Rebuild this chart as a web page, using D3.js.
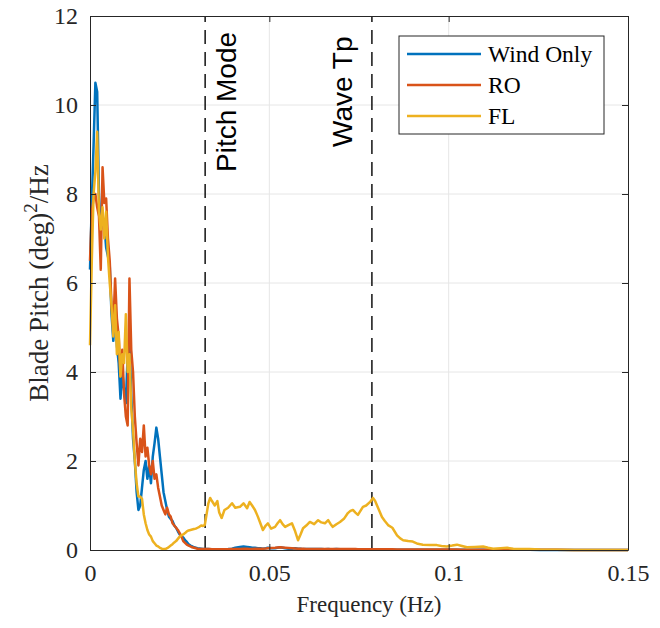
<!DOCTYPE html>
<html>
<head>
<meta charset="utf-8">
<style>
body { margin: 0; background: #fff; }
text { fill: #262626; }
</style>
</head>
<body>
<svg class="chart"></svg>
<script src="https://d3js.org/d3.v7.min.js"></script>
<script>
// frequency grid (Hz)
freqLow = [0, 0.0005, 0.001, 0.0015, 0.002, 0.0025, 0.003, 0.0035, 0.004, 0.0045,
  0.005, 0.0055, 0.006, 0.0065, 0.007, 0.0075, 0.008, 0.0085, 0.009, 0.0095,
  0.01, 0.0105, 0.011, 0.0115, 0.012, 0.0125, 0.013, 0.0135, 0.014, 0.0145,
  0.015, 0.0155, 0.016, 0.0165, 0.017, 0.0175, 0.018, 0.0185, 0.019, 0.0195,
  0.02, 0.0205, 0.021, 0.0215, 0.022, 0.0225, 0.023, 0.0235, 0.024, 0.0245,
  0.025, 0.0255, 0.026, 0.0265, 0.027, 0.0275, 0.028, 0.0285, 0.029, 0.0295,
  0.03, 0.0305, 0.031, 0.0315, 0.032]

freqHigh = [0.0325, 0.033, 0.0335, 0.034, 0.0348, 0.0355, 0.036, 0.0367, 0.0375, 0.0385,
  0.0396, 0.0405, 0.0418, 0.0428, 0.0438, 0.0445, 0.0452, 0.046, 0.0468, 0.0475,
  0.0482, 0.049, 0.0496, 0.0505, 0.0516, 0.0523, 0.053, 0.0537, 0.0544, 0.0553,
  0.0563, 0.0572, 0.058, 0.0587, 0.0594, 0.0603, 0.0613, 0.0625, 0.0636, 0.0645,
  0.0655, 0.0664, 0.0671, 0.0677, 0.0687, 0.0697, 0.0708, 0.0719, 0.0726, 0.0733,
  0.074, 0.0747, 0.0754, 0.0761, 0.077, 0.0781, 0.0789, 0.0795, 0.0803, 0.0814,
  0.0822, 0.0831, 0.0843, 0.0856, 0.0865, 0.0873, 0.0887, 0.09, 0.0914, 0.0928,
  0.0948, 0.0967, 0.098, 0.0995, 0.101, 0.1023, 0.1037, 0.1051, 0.1073, 0.1096,
  0.111, 0.1124, 0.1145, 0.1163, 0.118, 0.1199, 0.1225, 0.1255, 0.13, 0.135,
  0.14, 0.145, 0.15]

// blade pitch PSD, (deg)^2/Hz
windLow = [6.3, 7.8, 9.1, 10.5, 10.3, 8.0, 7.2, 7.5, 7.3, 6.8,
  6.6, 6.4, 5.3, 4.7, 5.5, 4.6, 4.2, 3.4, 4.0, 3.6,
  3.3, 4.4, 4.8, 3.5, 2.5, 2.0, 1.3, 0.9, 1.0, 1.4,
  1.8, 2.0, 1.6, 1.9, 1.5, 2.1, 2.4, 2.75, 2.5, 2.1,
  1.7, 1.3, 1.1, 0.9, 0.75, 0.7, 0.65, 0.55, 0.5, 0.42,
  0.35, 0.31, 0.28, 0.22, 0.18, 0.13, 0.1, 0.08, 0.06, 0.05,
  0.04, 0.035, 0.03, 0.025, 0.02]
windHigh = [0.02, 0.02, 0.015, 0.015, 0.015, 0.01, 0.01, 0.01, 0.015, 0.02,
  0.03, 0.05, 0.07, 0.08, 0.07, 0.06, 0.05, 0.05, 0.04, 0.04,
  0.03, 0.04, 0.05, 0.04, 0.04, 0.05, 0.06, 0.05, 0.04, 0.03,
  0.03, 0.04, 0.03, 0.03, 0.02, 0.02, 0.02, 0.025, 0.02, 0.02,
  0.015, 0.02, 0.015, 0.015, 0.02, 0.015, 0.015, 0.01, 0.015, 0.015,
  0.01, 0.01, 0.015, 0.01, 0.01, 0.01, 0.01, 0.01, 0.01, 0.01,
  0.01, 0.008, 0.008, 0.008, 0.008, 0.006, 0.006, 0.006, 0.006, 0.005,
  0.005, 0.005, 0.005, 0.005, 0.004, 0.004, 0.004, 0.004, 0.004, 0.004,
  0.003, 0.003, 0.003, 0.003, 0.003, 0.003, 0.003, 0.002, 0.002, 0.002,
  0.002, 0.002, 0.002]

roLow = [6.5, 7.6, 7.9, 8.0, 7.7, 7.5, 6.3, 8.6, 7.8, 7.9,
  7.0, 6.5, 5.5, 5.0, 6.1, 5.2, 4.8, 3.9, 4.5, 3.5,
  3.0, 2.8, 6.1, 4.5, 4.0, 3.0, 2.4, 1.9, 2.5, 2.2,
  2.8, 2.1, 2.3, 1.9, 1.7, 2.0, 1.6, 1.7, 1.4, 1.2,
  1.0, 0.9, 0.8, 0.95, 0.8, 0.75, 0.6, 0.55, 0.5, 0.45,
  0.38, 0.3, 0.2, 0.16, 0.12, 0.1, 0.08, 0.06, 0.05, 0.04,
  0.03, 0.025, 0.02, 0.02, 0.02]
roHigh = [0.02, 0.02, 0.02, 0.018, 0.018, 0.015, 0.015, 0.015, 0.015, 0.018,
  0.02, 0.02, 0.025, 0.03, 0.03, 0.025, 0.025, 0.03, 0.03, 0.03,
  0.03, 0.035, 0.04, 0.045, 0.05, 0.055, 0.06, 0.055, 0.05, 0.045,
  0.04, 0.035, 0.03, 0.03, 0.03, 0.025, 0.025, 0.025, 0.02, 0.02,
  0.02, 0.02, 0.02, 0.02, 0.02, 0.02, 0.02, 0.02, 0.02, 0.02,
  0.02, 0.018, 0.018, 0.018, 0.018, 0.018, 0.018, 0.015, 0.015, 0.015,
  0.015, 0.015, 0.015, 0.012, 0.012, 0.012, 0.012, 0.012, 0.01, 0.01,
  0.01, 0.01, 0.01, 0.01, 0.01, 0.01, 0.008, 0.008, 0.008, 0.008,
  0.008, 0.006, 0.006, 0.005, 0.005, 0.004, 0.004, 0.003, 0.003, 0.002,
  0.002, 0.001, 0.001]

flLow = [4.6, 6.5, 8.0, 8.5, 9.4, 7.6, 7.2, 7.7, 7.0, 7.6,
  6.6, 6.0, 5.5, 4.8, 5.5, 4.4, 4.9, 3.9, 4.4, 4.2,
  5.3, 4.0, 4.4, 3.2, 2.7, 2.0, 1.5, 1.2, 1.2, 1.15,
  0.8, 0.6, 0.45, 0.35, 0.3, 0.2, 0.15, 0.1, 0.08, 0.05,
  0.03, 0.02, 0.02, 0.04, 0.07, 0.1, 0.13, 0.17, 0.2, 0.25,
  0.3, 0.33, 0.35, 0.38, 0.42, 0.44, 0.45, 0.46, 0.47, 0.48,
  0.5, 0.52, 0.55, 0.54, 0.56]
flHigh = [0.8, 1.05, 1.17, 1.1, 1.0, 1.1, 0.85, 0.72, 0.9, 0.95,
  1.05, 0.95, 0.97, 1.05, 0.94, 1.08, 1.0, 0.9, 0.75, 0.6,
  0.45, 0.55, 0.6, 0.48, 0.52, 0.6, 0.67, 0.58, 0.52, 0.56,
  0.6, 0.42, 0.22, 0.35, 0.49, 0.55, 0.63, 0.58, 0.67, 0.62,
  0.6, 0.67, 0.58, 0.52, 0.58, 0.63, 0.7, 0.83, 0.88, 0.9,
  0.84, 0.79, 0.88, 0.97, 1.0, 1.08, 1.17, 1.1, 0.95, 0.74,
  0.65, 0.56, 0.5, 0.33, 0.26, 0.22, 0.2, 0.19, 0.14, 0.12,
  0.11, 0.11, 0.09, 0.08, 0.1, 0.12, 0.09, 0.06, 0.07, 0.08,
  0.05, 0.03, 0.04, 0.05, 0.03, 0.02, 0.02, 0.01, 0.005, 0,
  0, 0, 0]

seriesNames = ["Wind Only", "RO", "FL"]
seriesColors = ["#0072BD", "#D95319", "#EDB120"]

xTicks = [0, 0.05, 0.1, 0.15]
yTicks = [0, 2, 4, 6, 8, 10, 12]

markers = [{f: 0.0321, label: "Pitch Mode"}, {f: 0.0786, label: "Wave Tp"}]

width = 660
height = 628
margin = ({top: 16, right: 32, bottom: 78, left: 90})

freq = freqLow.concat(freqHigh)
series = [windLow.concat(windHigh), roLow.concat(roHigh), flLow.concat(flHigh)]
  .map((vals, i) => ({name: seriesNames[i], color: seriesColors[i],
    points: freq.map((f, j) => ({f: f, v: vals[j]}))}))

x = d3.scaleLinear().domain([0, 0.15]).range([margin.left, width - margin.right])
y = d3.scaleLinear().domain([0, 12]).range([height - margin.bottom, margin.top])

const svg = d3.select("svg")
    .attr("width", width)
    .attr("height", height)
    .attr("viewBox", [0, 0, width, height])

// grid
svg.append("g")
    .attr("stroke", "#e6e6e6")
    .attr("stroke-width", 1)
  .call(g => g.selectAll(".gx").data(xTicks.slice(1, -1)).join("line")
      .attr("x1", d => x(d)).attr("x2", d => x(d))
      .attr("y1", y(0)).attr("y2", y(12)))
  .call(g => g.selectAll(".gy").data(yTicks.slice(1, -1)).join("line")
      .attr("x1", x(0)).attr("x2", x(0.15))
      .attr("y1", d => y(d)).attr("y2", d => y(d)))

// marker lines
svg.append("g")
    .attr("stroke", "#000")
    .attr("stroke-width", 1.4)
    .attr("stroke-dasharray", "14,8")
  .selectAll("line")
  .data(markers)
  .join("line")
    .attr("x1", d => x(d.f)).attr("x2", d => x(d.f))
    .attr("y1", y(0)).attr("y2", y(12))

line = d3.line().x(d => x(d.f)).y(d => y(d.v))

svg.append("g")
    .attr("fill", "none")
    .attr("stroke-width", 2.5)
    .attr("stroke-linejoin", "round")
  .selectAll("path")
  .data(series)
  .join("path")
    .attr("stroke", d => d.color)
    .attr("d", d => line(d.points))

// marker labels
svg.append("g")
    .attr("font-family", "'Liberation Sans', Arial, sans-serif")
    .attr("font-size", 28)
  .selectAll("text")
  .data(markers)
  .join("text")
    .attr("transform", (d, i) => `translate(${x(d.f) + (i === 0 ? 31 : -20)},${i === 0 ? 172 : 147}) rotate(-90)`)
    .style("fill", "#000")
    .text(d => d.label)

// axes
xAxis = g => g
    .attr("transform", `translate(0,${y(0)})`)
    .call(d3.axisBottom(x).tickValues(xTicks).tickFormat(d => d === 0 ? "0" : String(d))
      .tickSizeInner(-6).tickSizeOuter(0).tickPadding(14))
    .call(g => g.select(".domain").attr("stroke", "#262626"))
    .call(g => g.selectAll(".tick line").attr("stroke", "#262626"))

yAxis = g => g
    .attr("transform", `translate(${x(0)},0)`)
    .call(d3.axisLeft(y).tickValues(yTicks).tickSizeInner(-6).tickSizeOuter(0).tickPadding(12))
    .call(g => g.select(".domain").attr("stroke", "#262626"))
    .call(g => g.selectAll(".tick line").attr("stroke", "#262626"))

svg.append("g").call(xAxis)
svg.append("g").call(yAxis)

// top and right box edges with mirrored ticks
svg.append("g")
    .attr("transform", `translate(0,${y(12)})`)
    .call(d3.axisTop(x).tickValues(xTicks).tickFormat("").tickSizeInner(-6).tickSizeOuter(0))
    .call(g => g.selectAll("path, line").attr("stroke", "#262626"))
svg.append("g")
    .attr("transform", `translate(${x(0.15)},0)`)
    .call(d3.axisRight(y).tickValues(yTicks).tickFormat("").tickSizeInner(-6).tickSizeOuter(0))
    .call(g => g.selectAll("path, line").attr("stroke", "#262626"))

svg.selectAll(".tick text")
    .attr("font-family", "'Liberation Serif', 'Times New Roman', serif")
    .attr("font-size", 24)
    .style("fill", "#262626")

// axis titles
svg.append("text")
    .attr("x", 369)
    .attr("y", 612)
    .attr("text-anchor", "middle")
    .attr("font-family", "'Liberation Serif', 'Times New Roman', serif")
    .attr("font-size", 23)
    .text("Frequency (Hz)")

ylab = svg.append("text")
    .attr("transform", `translate(48,${(y(0) + y(12)) / 2}) rotate(-90)`)
    .attr("text-anchor", "middle")
    .attr("font-family", "'Liberation Serif', 'Times New Roman', serif")
    .attr("font-size", 27)
ylab.append("tspan").text("Blade Pitch (deg)")
ylab.append("tspan").attr("dy", -11).attr("font-size", 19).text("2")
ylab.append("tspan").attr("dy", 11).text("/Hz")

// legend
legend = svg.append("g").attr("transform", "translate(399,36)")
legend.append("rect")
    .attr("width", 205).attr("height", 98)
    .attr("fill", "#fff").attr("stroke", "#262626").attr("stroke-width", 1)
row = legend.selectAll(".row")
  .data(series)
  .join("g")
    .attr("transform", (d, i) => `translate(0,${18 + i * 31})`)
row.append("line")
    .attr("x1", 8).attr("x2", 82)
    .attr("stroke", d => d.color).attr("stroke-width", 2.5)
row.append("text")
    .attr("x", 89).attr("dy", "0.35em")
    .attr("font-family", "'Liberation Serif', 'Times New Roman', serif")
    .attr("font-size", 23.5)
    .style("fill", "#000")
    .text(d => d.name)
</script>
</body>
</html>
